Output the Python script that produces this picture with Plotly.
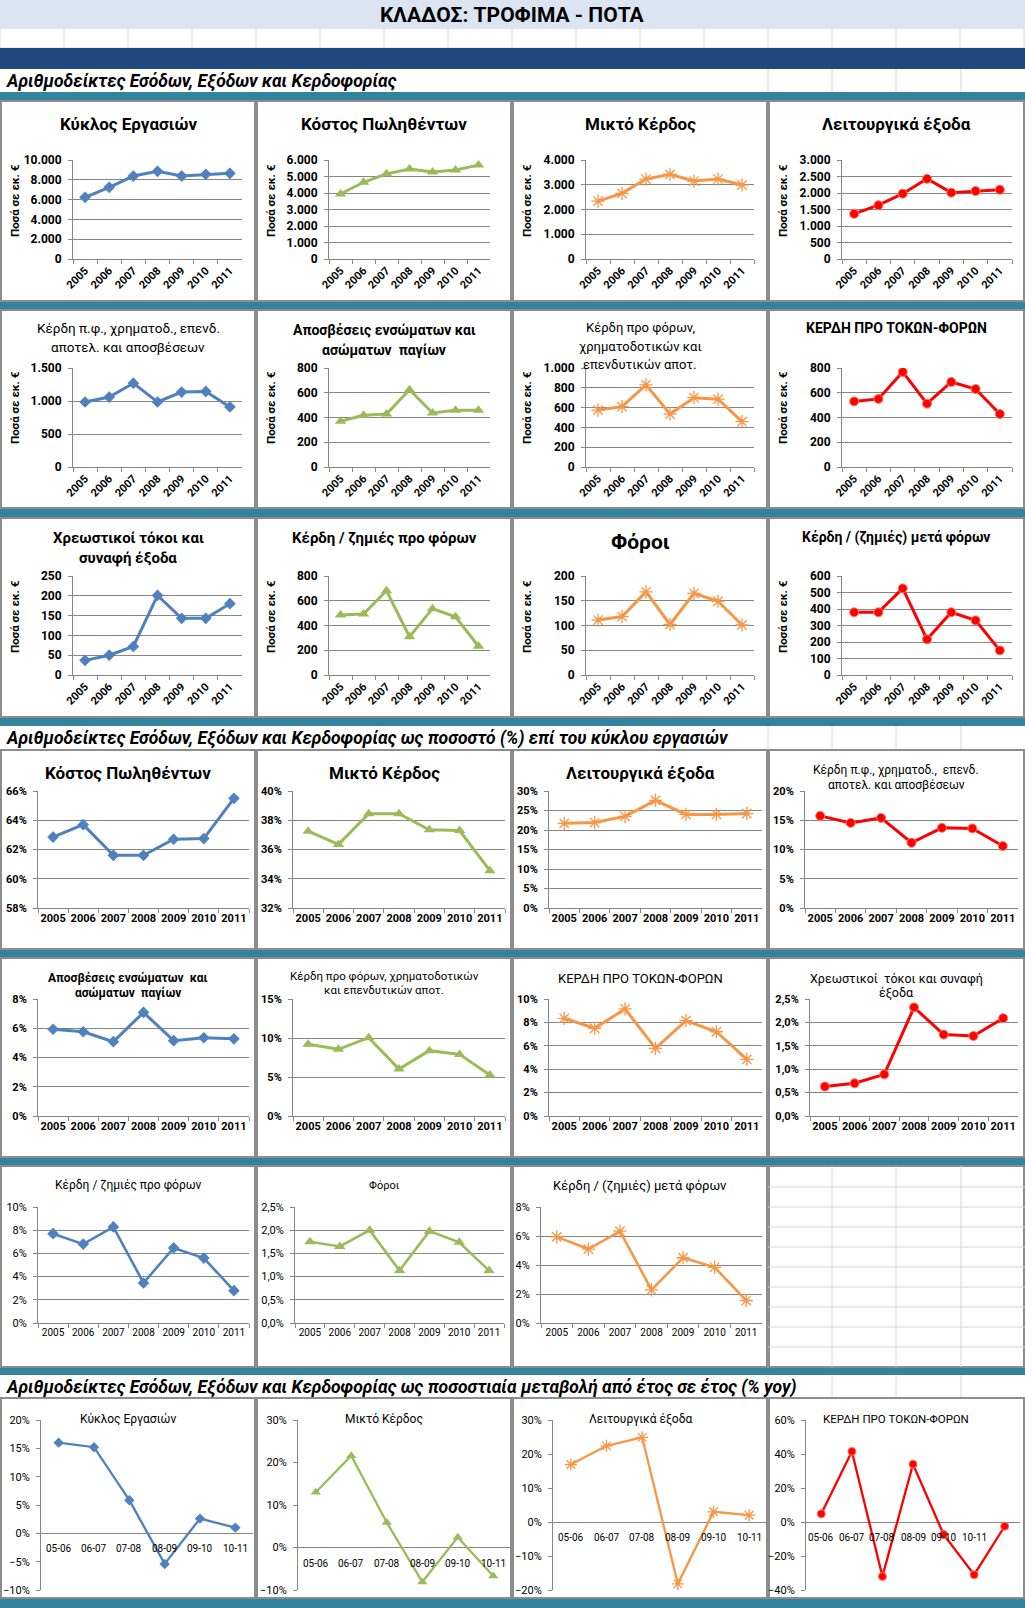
import plotly.graph_objects as go

W, H = 1025, 1608

# ---------------- DATA ----------------
years = ["2005", "2006", "2007", "2008", "2009", "2010", "2011"]
periods = ["05-06", "06-07", "07-08", "08-09", "09-10", "10-11"]
periods_ebit = ["05-06", "06-07", "07-08", "08-09", "09-10", "10-11", " "]

# amounts (million €)
kyklos = [6230, 7240, 8380, 8860, 8380, 8550, 8650]
kostos = [3940, 4650, 5160, 5450, 5280, 5390, 5690]
mikto = [2340, 2650, 3230, 3420, 3150, 3230, 2990]
leitourgika = [1370, 1630, 1980, 2430, 2010, 2060, 2100]
ebitda = [985, 1060, 1270, 985, 1135, 1145, 910]
aposveseis = [370, 418, 428, 625, 436, 458, 458]
kerdi_pf_xr = [575, 610, 830, 535, 700, 685, 458]
ebit = [530, 550, 768, 512, 687, 630, 428]
tokoi = [37, 50, 72, 201, 143, 143, 180]
kerdi_pro_foron = [485, 493, 681, 310, 536, 471, 232]
foroi = [111, 118, 168, 102, 165, 149, 101]
kerdi_meta_foron = [380, 380, 525, 216, 380, 331, 149]

# % of sales
p_kostos = [62.85, 63.7, 61.6, 61.6, 62.7, 62.75, 65.5]
p_mikto = [37.25, 36.35, 38.45, 38.45, 37.35, 37.3, 34.55]
p_leitourgika = [21.7, 21.9, 23.5, 27.6, 24.0, 24.0, 24.2]
p_ebitda = [15.75, 14.55, 15.4, 11.15, 13.7, 13.6, 10.6]
p_aposveseis = [5.93, 5.76, 5.08, 7.08, 5.15, 5.35, 5.28]
p_kerdi_pf_xr = [9.2, 8.55, 10.04, 6.02, 8.38, 7.9, 5.26]
p_ebit = [8.35, 7.5, 9.15, 5.78, 8.15, 7.2, 4.84]
p_tokoi = [0.63, 0.70, 0.89, 2.32, 1.74, 1.71, 2.09]
p_kerdi_pro_foron = [7.7, 6.8, 8.28, 3.45, 6.47, 5.6, 2.79]
p_foroi = [1.75, 1.65, 2.0, 1.13, 1.98, 1.74, 1.13]
p_kerdi_meta_foron = [5.94, 5.1, 6.33, 2.29, 4.5, 3.84, 1.55]

# % yoy
y_kyklos = [16.0, 15.2, 5.85, -5.4, 2.6, 1.0]
y_mikto = [13.0, 21.6, 5.9, -8.1, 2.4, -6.7]
y_leitourgika = [16.9, 22.4, 24.9, -18.2, 3.0, 2.0]
y_ebit = [4.8, 41.5, -32, 34, -7.3, -31, -2.5]

# ---------------- STYLE ----------------
STY = {
    "blue": dict(color="#4F81BD", symbol="diamond", size=9),
    "green": dict(color="#9BBB59", symbol="triangle-up", size=10),
    "orange": dict(color="#F79646", symbol="asterisk-open", size=11),
    "red": dict(color="#FF0000", symbol="circle", size=9),
}
GRID = "#868686"
TEAL = "#31849B"
FONT = "Roboto"

PANEL_X = [0, 256, 512, 768]
ROWS = {
    1: dict(panel=(101, 301), py=(160, 259), kind="abs", yt=201),
    2: dict(panel=(310, 508), py=(368, 467), kind="abs", yt=408),
    3: dict(panel=(518, 717), py=(576, 675), kind="abs", yt=617),
    4: dict(panel=(750, 949), py=(791, 908), kind="pct"),
    5: dict(panel=(958, 1157), py=(999, 1116), kind="pct"),
    6: dict(panel=(1166, 1367), py=(1207, 1323), kind="pct6"),
    7: dict(panel=(1398, 1598), py=(1420, 1590), kind="yoy"),
}

charts = [
    # row 1
    dict(r=1, c=0, cats=years, vals=kyklos, sty="blue", px=(73, 242), rng=(0, 10000), dt=2000, fmt=",.0f",
         title=[("Κύκλος Εργασιών", 124)], ts=17, tb=True),
    dict(r=1, c=1, cats=years, vals=kostos, sty="green", px=(329, 490), rng=(0, 6000), dt=1000, fmt=",.0f",
         title=[("Κόστος Πωληθέντων", 124)], ts=17, tb=True),
    dict(r=1, c=2, cats=years, vals=mikto, sty="orange", px=(586, 754), rng=(0, 4000), dt=1000, fmt=",.0f",
         title=[("Μικτό Κέρδος", 124)], ts=17, tb=True),
    dict(r=1, c=3, cats=years, vals=leitourgika, sty="red", px=(842, 1012), rng=(0, 3000), dt=500, fmt=",.0f",
         title=[("Λειτουργικά έξοδα", 124)], ts=17, tb=True),
    # row 2
    dict(r=2, c=0, cats=years, vals=ebitda, sty="blue", px=(73, 242), rng=(0, 1500), dt=500, fmt=",.0f",
         title=[("Κέρδη π.φ., χρηματοδ., επενδ.", 328), ("αποτελ. και αποσβέσεων", 347)], ts=13.5, tb=False),
    dict(r=2, c=1, cats=years, vals=aposveseis, sty="green", px=(329, 490), rng=(0, 800), dt=200, fmt=",.0f",
         title=[("Αποσβέσεις ενσώματων και", 330), ("ασώματων  παγίων", 350)], ts=14, tb=True),
    dict(r=2, c=2, cats=years, vals=kerdi_pf_xr, sty="orange", px=(586, 754), rng=(0, 1000), dt=200, fmt=",.0f",
         title=[("Κέρδη προ φόρων,", 328), ("χρηματοδοτικών και", 346), ("επενδυτικών αποτ.", 364)], ts=13, tb=False),
    dict(r=2, c=3, cats=years, vals=ebit, sty="red", px=(842, 1012), rng=(0, 800), dt=200, fmt=",.0f",
         title=[("ΚΕΡΔΗ ΠΡΟ ΤΟΚΩΝ-ΦΟΡΩΝ", 328)], ts=14, tb=True),
    # row 3
    dict(r=3, c=0, cats=years, vals=tokoi, sty="blue", px=(73, 242), rng=(0, 250), dt=50, fmt=",.0f",
         title=[("Χρεωστικοί τόκοι και", 538), ("συναφή έξοδα", 558)], ts=15, tb=True),
    dict(r=3, c=1, cats=years, vals=kerdi_pro_foron, sty="green", px=(329, 490), rng=(0, 800), dt=200, fmt=",.0f",
         title=[("Κέρδη / ζημιές προ φόρων", 538)], ts=15, tb=True),
    dict(r=3, c=2, cats=years, vals=foroi, sty="orange", px=(586, 754), rng=(0, 200), dt=50, fmt=",.0f",
         title=[("Φόροι", 542)], ts=21, tb=True),
    dict(r=3, c=3, cats=years, vals=kerdi_meta_foron, sty="red", px=(842, 1012), rng=(0, 600), dt=100, fmt=",.0f",
         title=[("Κέρδη / (ζημιές) μετά φόρων", 538)], ts=14, tb=True),
    # row 4
    dict(r=4, c=0, cats=years, vals=p_kostos, sty="blue", px=(38, 249), rng=(58, 66), dt=2, fmt=".0f",
         title=[("Κόστος Πωληθέντων", 773)], ts=17, tb=True),
    dict(r=4, c=1, cats=years, vals=p_mikto, sty="green", px=(293, 505), rng=(32, 40), dt=2, fmt=".0f",
         title=[("Μικτό Κέρδος", 773)], ts=17, tb=True),
    dict(r=4, c=2, cats=years, vals=p_leitourgika, sty="orange", px=(549, 762), rng=(0, 30), dt=5, fmt=".0f",
         title=[("Λειτουργικά έξοδα", 773)], ts=17, tb=True),
    dict(r=4, c=3, cats=years, vals=p_ebitda, sty="red", px=(805, 1018), rng=(0, 20), dt=5, fmt=".0f",
         title=[("Κέρδη π.φ., χρηματοδ.,  επενδ.", 770), ("αποτελ. και αποσβέσεων", 785)], ts=12, tb=False),
    # row 5
    dict(r=5, c=0, cats=years, vals=p_aposveseis, sty="blue", px=(38, 249), rng=(0, 8), dt=2, fmt=".0f",
         title=[("Αποσβέσεις ενσώματων  και", 978), ("ασώματων  παγίων", 993)], ts=12, tb=True),
    dict(r=5, c=1, cats=years, vals=p_kerdi_pf_xr, sty="green", px=(293, 505), rng=(0, 15), dt=5, fmt=".0f",
         title=[("Κέρδη προ φόρων, χρηματοδοτικών", 976), ("και επενδυτικών αποτ.", 990)], ts=11.5, tb=False),
    dict(r=5, c=2, cats=years, vals=p_ebit, sty="orange", px=(549, 762), rng=(0, 10), dt=2, fmt=".0f",
         title=[("ΚΕΡΔΗ ΠΡΟ ΤΟΚΩΝ-ΦΟΡΩΝ", 978)], ts=13, tb=False),
    dict(r=5, c=3, cats=years, vals=p_tokoi, sty="red", px=(810, 1018), rng=(0, 2.5), dt=0.5, fmt=".1f",
         title=[("Χρεωστικοί  τόκοι και συναφή", 978), ("έξοδα", 993)], ts=12.5, tb=False),
    # row 6
    dict(r=6, c=0, cats=years, vals=p_kerdi_pro_foron, sty="blue", px=(38, 249), rng=(0, 10), dt=2, fmt=".0f",
         title=[("Κέρδη / ζημιές προ φόρων", 1185)], ts=12, tb=False),
    dict(r=6, c=1, cats=years, vals=p_foroi, sty="green", px=(295, 504), rng=(0, 2.5), dt=0.5, fmt=".1f",
         title=[("Φόροι", 1185)], ts=11, tb=False),
    dict(r=6, c=2, cats=years, vals=p_kerdi_meta_foron, sty="orange", px=(541, 762), rng=(0, 8), dt=2, fmt=".0f",
         title=[("Κέρδη / (ζημιές) μετά φόρων", 1185)], ts=13, tb=False),
    # row 7
    dict(r=7, c=0, cats=periods, vals=y_kyklos, sty="blue", px=(41, 253), rng=(-10, 20), dt=5, fmt=".0f",
         title=[("Κύκλος Εργασιών", 1419)], ts=12, tb=False),
    dict(r=7, c=1, cats=periods, vals=y_mikto, sty="green", px=(298, 511), rng=(-10, 30), dt=10, fmt=".0f",
         title=[("Μικτό Κέρδος", 1419)], ts=12, tb=False),
    dict(r=7, c=2, cats=periods, vals=y_leitourgika, sty="orange", px=(553, 767), rng=(-20, 30), dt=10, fmt=".0f",
         title=[("Λειτουργικά έξοδα", 1419)], ts=12, tb=False),
    dict(r=7, c=3, cats=periods_ebit, vals=y_ebit, sty="red", px=(806, 1020), rng=(-40, 60), dt=20, fmt=".0f",
         title=[("ΚΕΡΔΗ ΠΡΟ ΤΟΚΩΝ-ΦΟΡΩΝ", 1419)], ts=11.5, tb=False),
]

# ---------------- HELPERS ----------------
fig = go.Figure()
shapes, annotations = [], []


def fx(x):
    return x / W


def fy(y):
    return 1 - y / H


def rect(x0, y0, x1, y1, fill="rgba(0,0,0,0)", line="rgba(0,0,0,0)", lw=0):
    shapes.append(dict(type="rect", xref="paper", yref="paper", x0=fx(x0), x1=fx(x1),
                       y0=fy(y1), y1=fy(y0), fillcolor=fill, line=dict(color=line, width=lw),
                       layer="below"))


def seg(x0, y0, x1, y1, color="#D4D4D4", lw=1):
    shapes.append(dict(type="line", xref="paper", yref="paper", x0=fx(x0), x1=fx(x1),
                       y0=fy(y0), y1=fy(y1), line=dict(color=color, width=lw), layer="below"))


def text(x, y, s, size, bold=False, italic=False, anchor="center", color="#000000", angle=0):
    t = s
    if italic:
        t = "<i>" + t + "</i>"
    if bold:
        t = "<b>" + t + "</b>"
    annotations.append(dict(x=fx(x), y=fy(y), xref="paper", yref="paper", text=t, showarrow=False,
                            xanchor=anchor, yanchor="middle", textangle=angle,
                            font=dict(family=FONT, size=size, color=color)))


# ---------------- BACKGROUND / SHEET ----------------
rect(0, 0, W, 29, fill="#DBE5F1")
text(512, 15, "ΚΛΑΔΟΣ: ΤΡΟΦΙΜΑ - ΠΟΤΑ", 21, bold=True)
for gx in range(0, W, 64):
    seg(gx, 29, gx, 48)
seg(0, 48, W, 48)
rect(0, 48, W, 69, fill="#1F497D")
HS = 17.5
text(4, 81, "Αριθμοδείκτες Εσόδων, Εξόδων και Κερδοφορίας", HS, bold=True, italic=True, anchor="left")
for gx in (768, 832, 896, 961):
    seg(gx, 69, gx, 92)
    seg(gx, 726, gx, 750)
    seg(gx, 1375, gx, 1398)
for (a, b) in [(92, 101), (301, 310), (508, 518), (717, 726), (949, 958), (1157, 1166), (1367, 1375),
               (1598, 1608)]:
    rect(0, a, W, b, fill=TEAL)
text(4, 739, "Αριθμοδείκτες Εσόδων, Εξόδων και Κερδοφορίας ως ποσοστό (%) επί του κύκλου εργασιών",
     HS, bold=True, italic=True, anchor="left")
seg(0, 750, 768, 750, color="#4F81BD", lw=1)
text(4, 1387, "Αριθμοδείκτες Εσόδων, Εξόδων και Κερδοφορίας ως ποσοστιαία μεταβολή από έτος σε έτος (% yoy)",
     HS, bold=True, italic=True, anchor="left")

# panel frames
for r, info in ROWS.items():
    p0, p1 = info["panel"]
    for ci, x0 in enumerate(PANEL_X):
        x1 = PANEL_X[ci + 1] if ci < 3 else W
        rect(x0 + 1, p0, x1 - 1, p1, fill="#FFFFFF", line="#8C8C8C", lw=2)

# empty sheet cell grid (row 6, column 4)
for gx in (832, 896, 961):
    seg(gx, 1166, gx, 1367)
for gy in range(1187, 1367, 20):
    seg(768, gy, W, gy)

# ---------------- CHARTS ----------------
layout_axes = {}
for i, ch in enumerate(charts, start=1):
    info = ROWS[ch["r"]]
    kind = info["kind"]
    sty = STY[ch["sty"]]
    xa = "x" if i == 1 else f"x{i}"
    ya = "y" if i == 1 else f"y{i}"
    py0, py1 = info["py"]
    x0, x1 = ch["px"]

    lw = 3 if kind in ("abs", "pct") else (2.6 if kind == "pct6" else 2.3)
    msize = sty["size"] if kind != "yoy" else sty["size"] - 1
    marker = dict(symbol=sty["symbol"], size=msize, color=sty["color"])
    if sty["symbol"] == "asterisk-open":
        marker["line"] = dict(color=sty["color"], width=1.3)
    elif sty["symbol"] == "circle":
        marker["line"] = dict(color="#FF7A5C", width=1)
    else:
        marker["line"] = dict(width=0)

    fig.add_trace(go.Scatter(x=ch["cats"], y=ch["vals"], mode="lines+markers",
                             line=dict(color=sty["color"], width=lw), marker=marker,
                             xaxis=xa, yaxis=ya, showlegend=False, hoverinfo="skip"))

    suffix = "" if kind == "abs" else "%"
    ybold = kind in ("abs", "pct")
    ysize = 12 if kind == "abs" else 11
    yaxis = dict(domain=[fy(py1), fy(py0)], anchor=xa, range=list(ch["rng"]), dtick=ch["dt"],
                 tick0=0, tickformat=ch["fmt"], ticksuffix=suffix, showgrid=(kind != "yoy"),
                 gridcolor=GRID, gridwidth=1, showline=True, linecolor=GRID, linewidth=1,
                 ticks="outside", ticklen=4, tickcolor=GRID, zeroline=(kind == "yoy"),
                 zerolinecolor=GRID, zerolinewidth=1, ticklabelstandoff=4, fixedrange=True,
                 tickfont=dict(family=FONT, size=ysize, color="#000000",
                               weight="bold" if ybold else "normal"))
    n = len(ch["cats"])
    xaxis = dict(domain=[fx(x0), fx(x1)], anchor=ya, type="category", range=[-0.5, n - 0.5],
                 showgrid=False, zeroline=False, fixedrange=True)
    if kind == "yoy":
        xaxis.update(showline=False, showticklabels=False, ticks="")
        for cat in ch["cats"]:
            annotations.append(dict(x=cat, y=0, xref=xa, yref=ya, text=cat, showarrow=False,
                                    xanchor="center", yanchor="top", yshift=-8,
                                    font=dict(family=FONT, size=10, color="#000000")))
    else:
        xaxis.update(showline=True, linecolor=GRID, linewidth=1, ticks="outside", ticklen=4,
                     tickcolor=GRID, tickson="boundaries")
        if kind == "abs":
            xaxis.update(tickangle=-45, tickfont=dict(family=FONT, size=11, color="#000000", weight="bold"))
        elif kind == "pct":
            xaxis.update(tickangle=0, tickfont=dict(family=FONT, size=11, color="#000000", weight="bold"))
        else:
            xaxis.update(tickangle=0, tickfont=dict(family=FONT, size=10, color="#000000"))

    layout_axes["xaxis" if i == 1 else f"xaxis{i}"] = xaxis
    layout_axes["yaxis" if i == 1 else f"yaxis{i}"] = yaxis

    # titles
    cx = PANEL_X[ch["c"]] + 128
    for (line_txt, ty) in ch["title"]:
        text(cx, ty, line_txt, ch["ts"], bold=ch["tb"])
    # y-axis title for amount charts
    if kind == "abs":
        text(PANEL_X[ch["c"]] + 15, info["yt"], "Ποσά σε εκ. €", 11.5, bold=True, angle=-90)

fig.update_layout(
    width=W, height=H, margin=dict(l=0, r=0, t=0, b=0, pad=0),
    paper_bgcolor="#FFFFFF", plot_bgcolor="rgba(0,0,0,0)", template="none",
    separators=",.", font=dict(family=FONT, color="#000000"),
    shapes=shapes, annotations=annotations, showlegend=False, **layout_axes,
)

fig.write_html("out.html", config={"displayModeBar": False},
               post_script="document.body.style.margin='0';document.body.style.overflow='hidden';")
